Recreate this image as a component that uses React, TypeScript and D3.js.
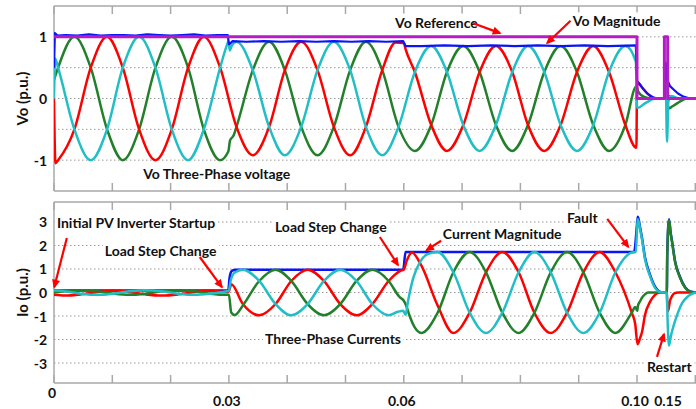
import { useEffect, useRef } from "react"
import * as d3 from "d3"

type Pt = [number, number]

// time in ms, value in p.u.
const voRed: Pt[] = [
  [0, 0], [0.25, -1.05], [0.7, -1.0], [3.5, -0.5], [6.3, 0.5], [9.1, 1], [11.8, 0.5], [14.6, -0.5], [17.4, -1], [20.2, -0.5],
  [23.0, 0.5], [25.7, 1], [28.5, 0.5], [31.3, -0.46], [34.1, -0.92], [36.9, -0.46], [39.6, 0.46], [42.4, 0.92], [45.2, 0.46],
  [48.0, -0.46], [50.8, -0.92], [53.5, -0.46], [56.3, 0.46], [58.6, 0.91], [60.0, 0.9], [60.3, 0.8], [61.9, 0.43], [64.7, -0.43],
  [67.4, -0.85], [70.2, -0.43], [73.0, 0.43], [75.8, 0.85], [78.6, 0.43], [81.3, -0.43], [84.1, -0.85], [86.9, -0.43], [89.7, 0.43],
  [92.5, 0.85], [95.2, 0.43], [98.0, -0.43], [99.9, -0.8], [100.05, 0.27], [104.5, 0.22], [109.1, 0.16], [116.7, 0.07], [123, 0.02],
  [131, 0], [143, 0], [147, 0.04], [152, 0.02], [160, 0], [189, 0],
]
const voGreen: Pt[] = [
  [0, 0.3], [0.7, 0.5], [3.5, 1], [6.3, 0.5], [9.1, -0.5], [11.8, -1], [14.6, -0.5], [17.4, 0.5], [20.2, 1], [23.0, 0.5],
  [25.7, -0.5], [28.5, -1], [29.9, -0.86], [30.2, -0.68], [30.8, -0.6], [31.3, -0.46], [34.1, 0.46], [36.9, 0.92], [39.6, 0.46],
  [42.4, -0.46], [45.2, -0.92], [48.0, -0.46], [50.8, 0.46], [53.5, 0.92], [56.3, 0.46], [59.1, -0.46], [61.9, -0.85], [64.7, -0.43],
  [67.4, 0.43], [70.2, 0.85], [73.0, 0.43], [75.8, -0.43], [78.6, -0.85], [81.3, -0.43], [84.1, 0.43], [86.9, 0.85], [89.7, 0.43],
  [92.5, -0.43], [95.2, -0.85], [98.0, -0.43], [99.9, 0.2], [101.5, 0.12], [107, 0.05], [116, 0.01], [125, 0], [142, 0], [144, 0.46],
  [146.5, -0.1], [149, -0.16], [153, -0.13], [160.6, -0.08], [168, -0.03], [176, 0], [189, 0],
]
const voCyan: Pt[] = [
  [0, 0], [0.2, 0.65], [0.7, 0.5], [3.5, -0.5], [6.3, -1], [9.1, -0.5], [11.8, 0.5], [14.6, 1], [17.4, 0.5], [20.2, -0.5],
  [23.0, -1], [25.7, -0.5], [28.5, 0.5], [29.6, 0.85], [29.95, 0.93], [30.15, 0.78], [30.5, 0.86], [31.3, 0.92], [34.1, 0.46],
  [36.9, -0.46], [39.6, -0.92], [42.4, -0.46], [45.2, 0.46], [48.0, 0.92], [50.8, 0.46], [53.5, -0.46], [56.3, -0.92], [59.1, -0.46],
  [61.9, 0.43], [64.7, 0.85], [67.4, 0.43], [70.2, -0.43], [73.0, -0.85], [75.8, -0.43], [78.6, 0.43], [81.3, 0.85], [84.1, 0.43],
  [86.9, -0.43], [89.7, -0.85], [92.5, -0.43], [95.2, 0.43], [98.0, 0.85], [99.8, 0.6], [100.1, -0.15], [104.5, -0.14], [109.1, -0.1],
  [116.7, -0.05], [124, -0.01], [131, 0], [142, 0], [143.5, 0.25], [145.5, -0.7], [147.5, -0.05], [152, 0.04], [160, 0.01], [170, 0], [189, 0],
]
const voMag: Pt[] = [
  [0, 0.5], [0.15, 1.06], [0.6, 1.02], [2, 1.03], [4, 1.02], [6, 1.04], [8, 1.02], [10, 1.03], [12, 1.03], [14, 1.02], [16, 1.04],
  [18, 1.03], [20, 1.02], [22, 1.03], [24, 1.04], [26, 1.02], [28, 1.03], [29.8, 1.03], [30.0, 0.88], [30.3, 0.9], [30.6, 0.93],
  [33, 0.92], [36, 0.93], [39, 0.92], [42, 0.93], [45, 0.92], [48, 0.93], [51, 0.92], [54, 0.93], [57, 0.92], [59.9, 0.93],
  [60.3, 0.85], [63, 0.85], [67, 0.86], [71, 0.85], [75, 0.86], [79, 0.85], [83, 0.86], [87, 0.85], [91, 0.86], [95, 0.85],
  [99.8, 0.86], [100.1, 0.28], [104.5, 0.23], [109.1, 0.16], [116.7, 0.07], [124, 0.02], [131, 0], [142, 0], [143.5, 0.58],
  [146, 0.3], [150, 0.2], [155, 0.15], [162, 0.08], [170, 0.03], [180, 0], [189, 0],
]
const voRef: Pt[] = [[0, 1], [100, 1], [100, 0], [141.5, 0], [141.5, 1], [146.5, 1], [146.5, 0], [189, 0]]

const ioRed: Pt[] = [
  [0, -0.1], [1.8, -0.13], [4.6, -0.08], [7.4, 0.02], [10.2, 0.07], [12.9, 0.02], [15.7, -0.08], [18.5, -0.13], [21.3, -0.08],
  [24.1, 0.02], [26.8, 0.07], [29.6, 0.02], [30.0, 0.05], [30.4, 0.35], [32.4, -0.49], [35.2, -0.97], [38.0, -0.49], [40.7, 0.49],
  [43.5, 0.97], [46.3, 0.49], [49.1, -0.49], [51.9, -0.97], [54.6, -0.49], [57.4, 0.49], [59.4, 0.92], [60.0, 0.98], [60.5, 1.35],
  [61.4, 1.7], [63.0, 1.15], [65.8, -0.55], [68.5, -1.72], [71.3, -0.86], [74.1, 0.86], [76.9, 1.72], [79.7, 0.86], [82.4, -0.86],
  [85.2, -1.72], [88.0, -0.86], [90.8, 0.86], [93.6, 1.72], [96.3, 0.86], [99.1, -0.86], [99.7, -1.35], [100.8, -2.2], [104.5, -1.95],
  [107.6, -1.68], [112.1, -0.96], [119.7, -0.4], [127.3, -0.1], [134.8, 0], [145.2, 0], [145.8, -0.5], [147, -0.8], [150, -0.35],
  [153, -0.15], [157, -0.03], [162, 0], [189, 0],
]
const ioGreen: Pt[] = [
  [0, 0], [1.8, 0.05], [4.6, 0.1], [7.4, 0.05], [10.2, -0.05], [12.9, -0.1], [15.7, -0.05], [18.5, 0.05], [21.3, 0.1], [24.1, 0.05],
  [26.8, -0.05], [29.6, -0.1], [30.0, -0.1], [30.4, -0.85], [31.0, -0.96], [32.4, -0.55], [35.2, 0.49], [38.0, 0.97], [40.7, 0.49],
  [43.5, -0.49], [46.3, -0.97], [49.1, -0.49], [51.9, 0.49], [54.6, 0.97], [57.4, 0.49], [59.3, -0.2], [60.0, -0.35], [60.4, -0.55],
  [61.0, -1.0], [61.8, -1.45], [63.0, -1.72], [65.8, -0.86], [68.5, 0.86], [71.3, 1.72], [74.1, 0.86], [76.9, -0.86], [79.7, -1.72],
  [82.4, -0.86], [85.2, 0.86], [88.0, 1.72], [90.8, 0.86], [93.6, -0.86], [96.3, -1.72], [99.1, -0.86], [99.7, -0.62], [100.3, -0.78],
  [101.5, -0.55], [104.5, -0.38], [107.6, -0.22], [112, -0.08], [116.7, 0], [145.2, 0], [145.8, 1.5], [148.5, 3.08], [151, 2.5],
  [153, 2.15], [157.6, 1.3], [165.2, 0.62], [172.7, 0.2], [180.3, 0.03], [189, 0],
]
const ioCyan: Pt[] = [
  [0, 0.08], [1.8, 0.05], [4.6, -0.05], [7.4, -0.1], [10.2, -0.05], [12.9, 0.05], [15.7, 0.1], [18.5, 0.05], [21.3, -0.05],
  [24.1, -0.1], [26.8, -0.05], [29.6, 0.05], [30.0, 0.08], [30.3, 0.5], [31.0, 0.85], [32.4, 0.97], [35.2, 0.49], [38.0, -0.49],
  [40.7, -0.97], [43.5, -0.49], [46.3, 0.49], [49.1, 0.97], [51.9, 0.49], [54.6, -0.49], [57.4, -0.97], [59.0, -0.82], [59.9, -0.78],
  [60.3, -0.95], [60.7, -0.4], [61.6, 0.6], [62.8, 1.3], [64.0, 1.62], [65.8, 1.72], [68.5, 0.86], [71.3, -0.86], [74.1, -1.72],
  [76.9, -0.86], [79.7, 0.86], [82.4, 1.72], [85.2, 0.86], [88.0, -0.86], [90.8, -1.72], [93.6, -0.86], [96.3, 0.86], [99.1, 1.7],
  [99.8, 1.72], [100.5, 2.9], [101.4, 3.12], [104.5, 2.72], [107.6, 2.25], [112.1, 1.42], [119.7, 0.7], [127.3, 0.2], [134.8, 0.02],
  [140, 0], [145.2, 0], [146.4, -1.2], [148.5, -2.25], [151, -1.9], [154.5, -1.5], [160.6, -0.96], [168.2, -0.45], [175.8, -0.19],
  [184, -0.05], [189, 0],
]
const ioMag: Pt[] = [
  [0, 0.08], [29.9, 0.08], [30.1, 0.6], [30.5, 0.92], [31.2, 0.97], [59.9, 0.97], [60.3, 1.72], [99.5, 1.72], [100.4, 3.0],
  [101.3, 3.22], [104.5, 2.8], [107.6, 2.32], [112.1, 1.5], [119.7, 0.76], [127.3, 0.25], [134.8, 0.03], [140, 0], [145.2, 0],
  [145.8, 1.6], [148.5, 3.12], [151, 2.55], [153, 2.2], [157.6, 1.33], [165.2, 0.65], [172.7, 0.22], [180.3, 0.04], [189, 0],
]

const xLabels = ["0", "0.03", "0.06", "0.10", "0.15"]
const xLabelTimes = [0, 30, 60, 100, 150]
const gridTimes = [0, 10, 20, 30, 40, 50, 60, 70, 80, 90, 100, 110]
const voGrid = [-1, -0.5, 0, 0.5, 1]
const voTicks = [-1, 0, 1]
const ioGrid = [-3, -2, -1, 0, 1, 2, 3]

interface Note {
  text: string
  t: number
  v: number
  from?: Pt
  to?: Pt
}

const voNotes: Note[] = [
  { text: "Vo Reference", t: 58.5, v: 1.24, from: [71.9, 1.22], to: [76.5, 1.06] },
  { text: "Vo Magnitude", t: 89.0, v: 1.26, from: [88.6, 1.26], to: [84.6, 0.9] },
  { text: "Vo Three-Phase voltage", t: 15.3, v: -1.22 },
]
const ioNotes: Note[] = [
  { text: "Initial PV Inverter Startup", t: 0.5, v: 2.96, from: [2.2, 2.32], to: [0.05, 0.23] },
  { text: "Load Step Change", t: 8.7, v: 1.77, from: [25.0, 1.51], to: [28.8, 0.23] },
  { text: "Load Step Change", t: 37.9, v: 2.79, from: [55.9, 2.36], to: [59.0, 1.17] },
  { text: "Current Magnitude", t: 66.7, v: 2.53, from: [66.4, 2.2], to: [63.9, 1.8] },
  { text: "Fault", t: 88.0, v: 3.17, from: [94.9, 3.13], to: [98.5, 1.94] },
  { text: "Restart", t: 115.0, v: -3.13, from: [130.3, -2.74], to: [140.9, -1.77] },
  { text: "Three-Phase Currents", t: 36.2, v: -1.94 },
]

const RED = "#ff0000"
const GREEN = "#23802a"
const CYAN = "#22bec6"
const BLUE = "#0a14f5"
const MAGENTA = "#b51cc6"
const FONT = "Lato, 'Open Sans', sans-serif"

export default function App() {
  const svgRef = useRef<SVGSVGElement>(null)

  useEffect(() => {
    if (!svgRef.current) return
    const svg = d3.select(svgRef.current)
    svg.selectAll("*").remove()

    const left = 54
    const right = 696
    const x = d3.scaleLinear().domain([0, 100, 150, 189]).range([left, 637, 670, right])
    // scope grid divisions are evenly spaced in pixels
    const xDiv = d3.scaleLinear().domain([0, 100]).range([left, 637])

    svg.append("defs")
      .append("marker")
      .attr("id", "arrowHead")
      .attr("viewBox", "0 0 10 10")
      .attr("refX", 8)
      .attr("refY", 5)
      .attr("markerWidth", 10)
      .attr("markerHeight", 9)
      .attr("markerUnits", "userSpaceOnUse")
      .attr("orient", "auto")
      .append("path")
      .attr("d", "M0,0.5 L10,5 L0,9.5 z")
      .attr("fill", RED)

    const panels = [
      {
        id: "vo",
        y: d3.scaleLinear().domain([-1.5, 1.5]).range([191, 6]),
        grid: voGrid,
        ticks: voTicks,
        title: "Vo (p.u.)",
        notes: voNotes,
        series: [
          { data: voGreen, color: GREEN, w: 2.5, smooth: true },
          { data: voRed, color: RED, w: 2.5, smooth: true },
          { data: voCyan, color: CYAN, w: 2.5, smooth: true },
          { data: voMag, color: BLUE, w: 2.2, smooth: false },
          { data: voRef, color: MAGENTA, w: 3, smooth: false },
        ],
      },
      {
        id: "io",
        y: d3.scaleLinear().domain([-3.85, 3.85]).range([383, 202]),
        grid: ioGrid,
        ticks: ioGrid,
        title: "Io (p.u.)",
        notes: ioNotes,
        series: [
          { data: ioMag, color: BLUE, w: 2.5, smooth: true },
          { data: ioRed, color: RED, w: 2.5, smooth: true },
          { data: ioGreen, color: GREEN, w: 2.5, smooth: true },
          { data: ioCyan, color: CYAN, w: 2.5, smooth: true },
        ],
      },
    ]

    panels.forEach((p) => {
      const [bottom, top] = p.y.range()
      const g = svg.append("g")

      g.append("clipPath")
        .attr("id", `clip-${p.id}`)
        .append("rect")
        .attr("x", left)
        .attr("y", top)
        .attr("width", right - left)
        .attr("height", bottom - top)

      // dotted grid
      g.selectAll(".grid")
        .data(p.grid)
        .enter()
        .append("line")
        .attr("x1", left)
        .attr("x2", right)
        .attr("y1", (d) => p.y(d))
        .attr("y2", (d) => p.y(d))
        .attr("stroke", "#9a9a9a")
        .attr("stroke-width", 1)
        .attr("stroke-dasharray", "1.5,2.5")

      // frame
      const frame = [
        [left, top, right, top],
        [left, bottom, right, bottom],
        [left, top, left, bottom],
      ]
      g.selectAll(".frame")
        .data(frame)
        .enter()
        .append("line")
        .attr("x1", (d) => d[0])
        .attr("y1", (d) => d[1])
        .attr("x2", (d) => d[2])
        .attr("y2", (d) => d[3])
        .attr("stroke", "#a8a8a8")
        .attr("stroke-width", 1.5)

      // division ticks on top and bottom edges
      gridTimes.forEach((t) => {
        g.append("line").attr("x1", xDiv(t)).attr("x2", xDiv(t)).attr("y1", top).attr("y2", top + 8).attr("stroke", "#a8a8a8").attr("stroke-width", 1.5)
        g.append("line").attr("x1", xDiv(t)).attr("x2", xDiv(t)).attr("y1", bottom - 8).attr("y2", bottom).attr("stroke", "#a8a8a8").attr("stroke-width", 1.5)
      })

      // y tick labels
      g.selectAll(".ytick")
        .data(p.ticks)
        .enter()
        .append("text")
        .attr("x", 47)
        .attr("y", (d) => p.y(d))
        .attr("text-anchor", "end")
        .attr("dominant-baseline", "central")
        .style("font-family", FONT)
        .style("font-weight", "bold")
        .style("font-size", "14px")
        .attr("fill", "#111")
        .text((d) => String(d))

      // y title
      g.append("text")
        .attr("transform", `translate(22,${(top + bottom) / 2}) rotate(-90)`)
        .attr("text-anchor", "middle")
        .attr("dominant-baseline", "central")
        .style("font-family", FONT)
        .style("font-weight", "bold")
        .style("font-size", "15px")
        .attr("fill", "#111")
        .text(p.title)

      // waveforms
      const plot = g.append("g").attr("clip-path", `url(#clip-${p.id})`)
      p.series.forEach((s) => {
        const line = d3
          .line<Pt>()
          .x((d) => x(d[0]))
          .y((d) => p.y(d[1]))
          .curve(s.smooth ? d3.curveMonotoneX : d3.curveLinear)
        plot.append("path")
          .datum(s.data)
          .attr("fill", "none")
          .attr("stroke", s.color)
          .attr("stroke-width", s.w)
          .attr("stroke-linejoin", "round")
          .attr("d", line)
      })

      // annotations
      p.notes.forEach((n) => {
        const ng = g.append("g")
        const tx = ng.append("text")
          .attr("x", x(n.t))
          .attr("y", p.y(n.v))
          .attr("dominant-baseline", "central")
          .style("font-family", FONT)
          .style("font-weight", "bold")
          .style("font-size", "14px")
          .attr("fill", "#111")
          .text(n.text)
        const bb = (tx.node() as SVGTextElement).getBBox()
        ng.insert("rect", "text")
          .attr("x", bb.x - 2)
          .attr("y", bb.y)
          .attr("width", bb.width + 4)
          .attr("height", bb.height)
          .attr("fill", "white")
        if (n.from && n.to) {
          g.append("line")
            .attr("x1", x(n.from[0]))
            .attr("y1", p.y(n.from[1]))
            .attr("x2", x(n.to[0]))
            .attr("y2", p.y(n.to[1]))
            .attr("stroke", RED)
            .attr("stroke-width", 2.2)
            .attr("marker-end", "url(#arrowHead)")
        }
      })
    })

    // time labels
    svg.selectAll(".xlabel")
      .data(xLabels)
      .enter()
      .append("text")
      .attr("x", (_, i) => x(xLabelTimes[i]) - 2)
      .attr("y", (_, i) => (i === 0 ? 398 : 406))
      .attr("text-anchor", "middle")
      .style("font-family", FONT)
      .style("font-weight", "bold")
      .style("font-size", "14px")
      .attr("fill", "#111")
      .text((d) => d)
  }, [])

  return (
    <svg
      ref={svgRef}
      width={696}
      height={409}
      style={{ position: "absolute", left: 0, top: 0, background: "white" }}
    />
  )
}
